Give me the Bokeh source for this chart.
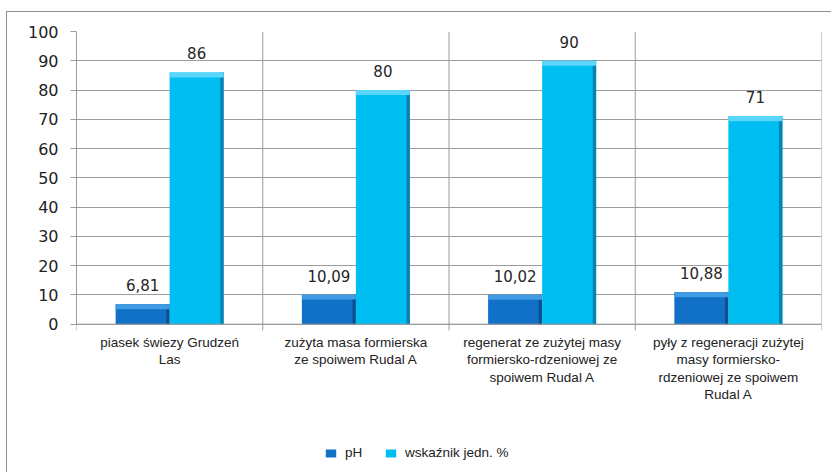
from bokeh.plotting import figure
from bokeh.models import Range1d, FixedTicker, Legend, LegendItem, ColumnDataSource
from bokeh.core.properties import value
from bokeh.embed import file_html
from bokeh.resources import INLINE

categories = [
    "piasek świezy Grudzeń\nLas",
    "zużyta masa formierska\nze spoiwem Rudal A",
    "regenerat ze zużytej masy\nformiersko-rdzeniowej ze\nspoiwem Rudal A",
    "pyły z regeneracji zużytej\nmasy formiersko-\nrdzeniowej ze spoiwem\nRudal A",
]
series_names = ["pH", "wskaźnik jedn. %"]
ph_values = [6.81, 10.09, 10.02, 10.88]
wsk_values = [86, 80, 90, 71]
y_ticks = [0, 10, 20, 30, 40, 50, 60, 70, 80, 90, 100]

n = len(categories)
centers = [i + 0.5 for i in range(n)]
bounds = list(range(n + 1))
bw = 0.29
off = 0.145
ymin, ymax = y_ticks[0], y_ticks[-1]

p = figure(width=825, height=461, output_backend="svg", toolbar_location=None,
           x_range=Range1d(0, n), y_range=Range1d(-50, ymax),
           x_axis_location=None,
           min_border_left=69, min_border_right=11, min_border_top=19,
           min_border_bottom=3)
p.margin = (11, 0, 0, 6)
p.styles = {"border-top": "1.5px solid #8f8f8f", "border-left": "1.5px solid #8f8f8f"}
p.background_fill_color = "white"
p.border_fill_color = "white"
p.outline_line_color = None

grid_col = "#9c9c9c"
p.xgrid.visible = False
p.ygrid.ticker = FixedTicker(ticks=y_ticks)
p.ygrid.grid_line_color = grid_col

ya = p.yaxis[0]
ya.ticker = FixedTicker(ticks=y_ticks)
ya.bounds = (ymin, ymax)
ya.axis_line_color = grid_col
ya.major_tick_line_color = grid_col
ya.major_tick_out = 6
ya.major_tick_in = 0
ya.minor_tick_line_color = None
ya.major_label_text_font = "DejaVu Sans"
ya.major_label_text_font_size = "16px"
ya.major_label_text_color = "#222222"
ya.major_label_standoff = 12

# category separators and ticks below the baseline
p.segment(x0=bounds[1:], y0=[ymin] * n, x1=bounds[1:], y1=[ymax] * n,
          line_color=grid_col, line_width=1)
p.segment(x0=bounds, y0=[ymin] * (n + 1), x1=bounds, y1=[ymin - 2.1] * (n + 1),
          line_color=grid_col, line_width=1)

# category labels
p.text(x=centers, y=[ymin] * n, text=categories, y_offset=11,
       text_align="center", text_baseline="top",
       text_font=value("Liberation Sans"), text_font_size="13.5px",
       text_line_height=1.15, text_color="#222222")

x_ph = [c - off for c in centers]
x_wsk = [c + off for c in centers]

src_ph = ColumnDataSource(dict(x=x_ph, top=ph_values,
                               lab=[f"{v:.2f}".replace(".", ",") for v in ph_values],
                               strip=[v - 1.7 for v in ph_values],
                               xr=[x + bw / 2 - 0.009 for x in x_ph]))
src_wsk = ColumnDataSource(dict(x=x_wsk, top=wsk_values,
                                lab=[f"{v:d}" for v in wsk_values],
                                strip=[v - 1.7 for v in wsk_values],
                                xr=[x + bw / 2 - 0.009 for x in x_wsk]))

r_ph = p.vbar(x="x", top="top", bottom=0, width=bw, source=src_ph,
              fill_color="#1071c6", line_color=None)
p.vbar(x="xr", top="top", bottom=0, width=0.018, source=src_ph,
       fill_color="#0b4f8f", line_color=None)
p.vbar(x="x", top="top", bottom="strip", width=bw, source=src_ph,
       fill_color="#3f9be3", line_color=None)

r_wsk = p.vbar(x="x", top="top", bottom=0, width=bw, source=src_wsk,
               fill_color="#00bdf2", line_color=None)
p.vbar(x="xr", top="top", bottom=0, width=0.018, source=src_wsk,
       fill_color="#0a82b0", line_color=None)
p.vbar(x="x", top="top", bottom="strip", width=bw, source=src_wsk,
       fill_color="#5ad6fb", line_color=None)

# x axis baseline
p.segment(x0=[0], y0=[ymin], x1=[n], y1=[ymin], line_color=grid_col, line_width=1)

for src in (src_ph, src_wsk):
    p.text(x="x", y="top", text="lab", source=src, y_offset=-13,
           text_align="center", text_baseline="bottom",
           text_font=value("DejaVu Sans"), text_font_size="15px",
           text_color="#262626")

legend = Legend(items=[LegendItem(label=series_names[0], renderers=[r_ph]),
                       LegendItem(label=series_names[1], renderers=[r_wsk])],
                orientation="horizontal", location=(248, 10),
                glyph_width=13, glyph_height=10, label_height=12,
                label_standoff=8, spacing=19, padding=0, margin=0,
                border_line_color=None, background_fill_alpha=0,
                label_text_font="Liberation Sans", label_text_font_size="13.5px",
                label_text_color="#222222")
p.add_layout(legend, "center")

open("out.html", "w").write(file_html(p, INLINE))
